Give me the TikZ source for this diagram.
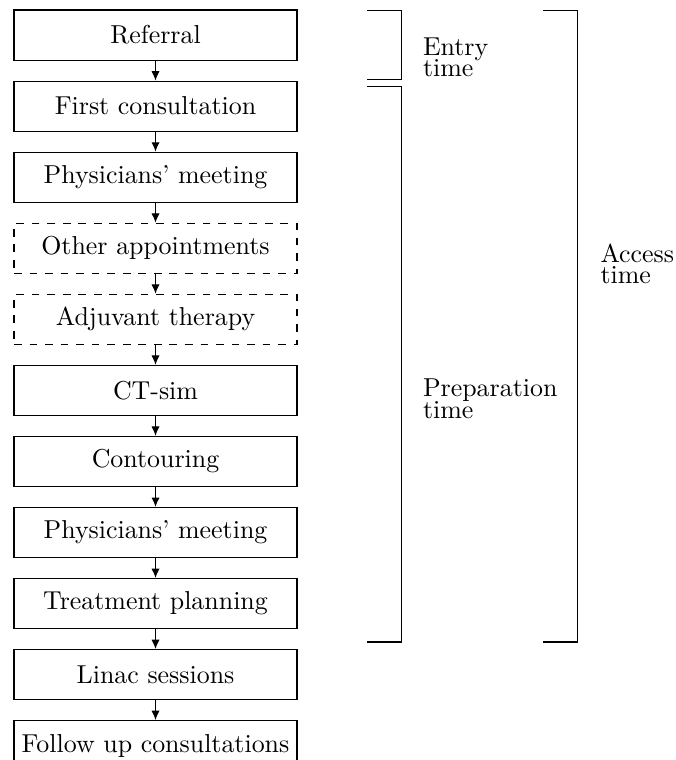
\documentclass[tikz,border=0pt]{standalone}
\usepackage{amsmath,amssymb}
\usepackage{tikz}
\usetikzlibrary{positioning,arrows.meta}

\begin{document}
\begin{tikzpicture}[
    node distance=0.271cm,
    stage/.style={draw, minimum width=3.84cm, minimum height=0.679cm, inner sep=1pt},
    optstage/.style={stage, dashed},
    span/.style={anchor=base west, inner sep=0pt, align=left}
  ]
    \useasboundingbox (0,0) rectangle (9.172,-10.312);
    % Patient pathway
    \node[stage] (ref) at (2.110,-0.475) {Referral};
    \node[stage, below=of ref] (fcons) {First consultation};
    \node[stage, below=of fcons] (pmeet1) {Physicians' meeting};
    \node[optstage, below=of pmeet1] (other) {Other appointments};
    \node[optstage, below=of other] (adjuv) {Adjuvant therapy};
    \node[stage, below=of adjuv] (ctsim) {CT-sim};
    \node[stage, below=of ctsim] (contour) {Contouring};
    \node[stage, below=of contour] (pmeet2) {Physicians' meeting};
    \node[stage, below=of pmeet2] (tplan) {Treatment planning};
    \node[stage, below=of tplan] (linac) {Linac sessions};
    \node[stage, below=of linac] (follow) {Follow up consultations};
    \foreach \a/\b in {ref/fcons, fcons/pmeet1, pmeet1/other, other/adjuv, adjuv/ctsim,
        ctsim/contour, contour/pmeet2, pmeet2/tplan, tplan/linac, linac/follow}
        \draw[-{Latex[length=3.6pt,width=3.2pt]}] (\a) -- (\b);
    % Brackets for the time spans
    \draw (4.980,-0.136) -- (5.454,-0.136) -- (5.454,-1.085) -- (4.980,-1.085);
    \node[span] (entry) at (5.733,-1.041) {Entry\\[-3.7pt]time};
    \draw (4.980,-1.180) -- (5.454,-1.180) -- (5.454,-8.711) -- (4.980,-8.711);
    \node[span] (prep) at (5.733,-5.675) {Preparation\\[-3.7pt]time};
    \draw (7.367,-0.136) -- (7.842,-0.136) -- (7.842,-8.711) -- (7.367,-8.711);
    \node[span] (access) at (8.141,-3.853) {Access\\[-3.7pt]time};
\end{tikzpicture}
\end{document}
